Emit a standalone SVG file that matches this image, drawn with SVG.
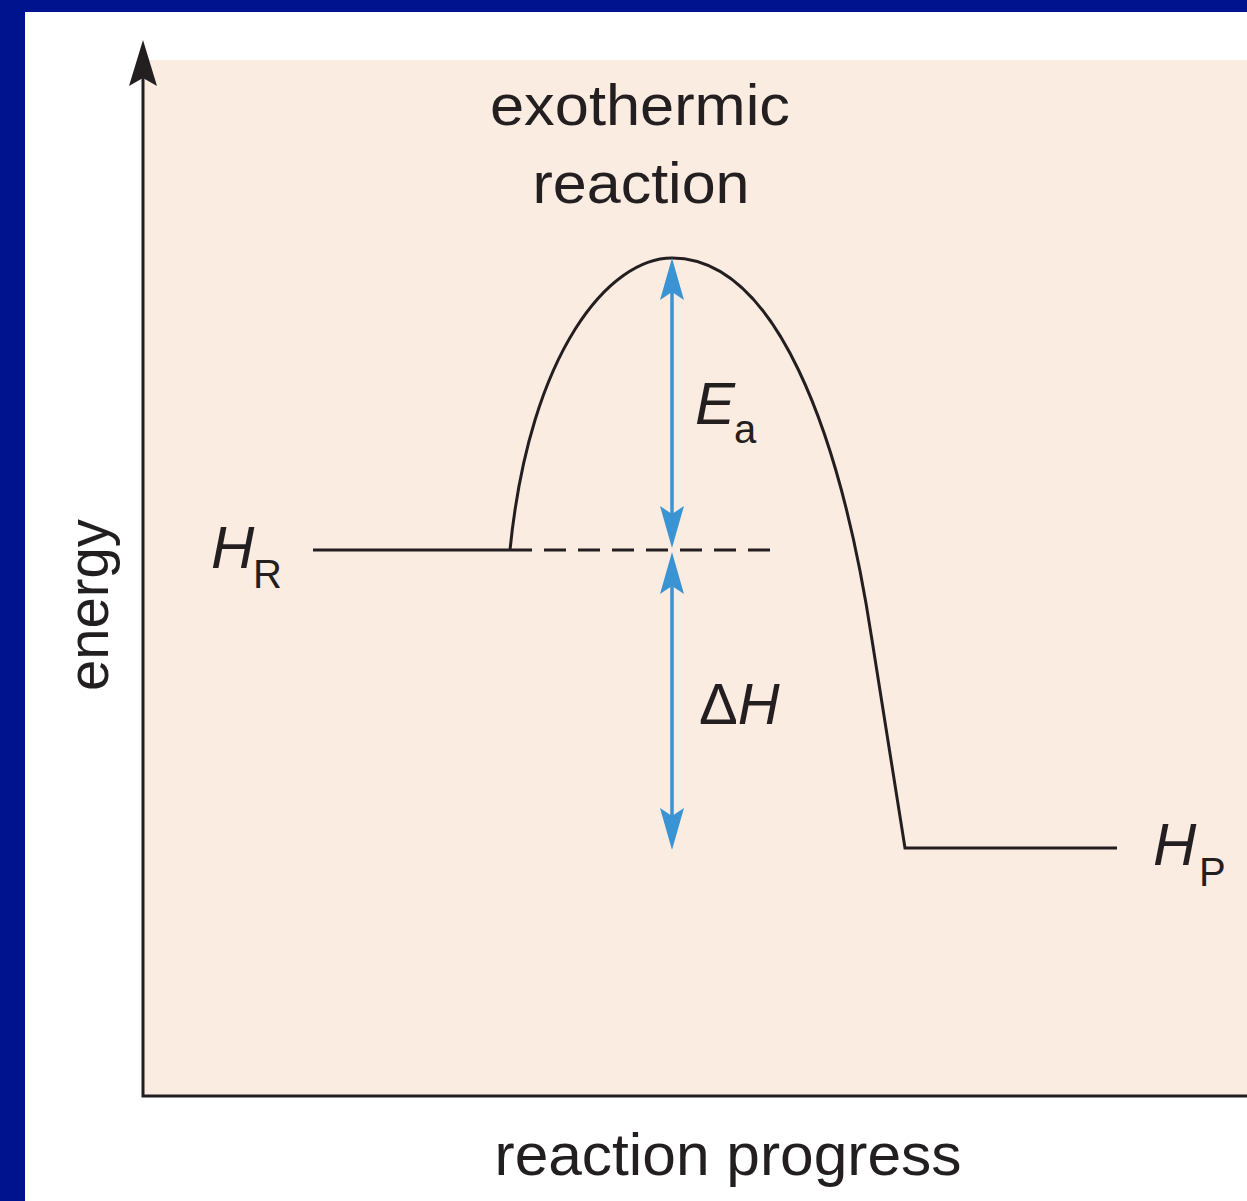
<svg xmlns="http://www.w3.org/2000/svg" width="1247" height="1201" viewBox="0 0 1247 1201">
<style>
.t{font-family:"Liberation Sans",Arial,sans-serif;fill:#231f20}
.it{font-style:italic}
.ln{fill:none;stroke:#231f20;stroke-width:3}
.bl{fill:none;stroke:#3a93d3;stroke-width:3.5}
.bh{fill:#3a93d3}
</style>
<rect x="0" y="0" width="1247" height="1201" fill="#00138f"/>
<rect x="25" y="12" width="1222" height="1189" fill="#ffffff"/>
<rect x="143" y="60" width="1104" height="1036" fill="#fbece2"/>
<g id="axes">
<path class="ln" d="M143,70 L143,1096 L1247,1096" stroke-width="3.5"/>
<path d="M143,40 L157,86 L143,78 L129,86 Z" fill="#231f20"/>
</g>
<g id="connectors">
<path class="ln" d="M313,550 L510,550"/>
<path class="ln" d="M510,550 L770,550" stroke-dasharray="22,12"/>
<path class="ln" d="M510,550 C530,350 610,258 672,258 C775,258 840,430 872,640 L905,848 L1117,848"/>
<line class="bl" x1="672" y1="275" x2="672" y2="530"/>
<path class="bh" d="M672,258 L684,300 L672,292 L660,300 Z"/>
<path class="bh" d="M672,548 L660,506 L672,514 L684,506 Z"/>
<line class="bl" x1="672" y1="570" x2="672" y2="830"/>
<path class="bh" d="M672,552 L684,594 L672,586 L660,594 Z"/>
<path class="bh" d="M672,850 L660,808 L672,816 L684,808 Z"/>
</g>
<g id="title">
<text class="t" x="640" y="125" font-size="58" text-anchor="middle" textLength="300" lengthAdjust="spacingAndGlyphs">exothermic</text>
<text class="t" x="641" y="203" font-size="58" text-anchor="middle" textLength="217" lengthAdjust="spacingAndGlyphs">reaction</text>
</g>
<g id="HR">
<text class="t" x="211" y="568" font-size="60"><tspan class="it">H</tspan><tspan font-size="40" x="253" y="588">R</tspan></text>
</g>
<g id="HP">
<text class="t" x="1153" y="865" font-size="60"><tspan class="it">H</tspan><tspan font-size="40" x="1199" y="886">P</tspan></text>
</g>
<g id="Ea">
<text class="t it" x="695" y="424" font-size="60">E</text>
<text class="t" x="734" y="443" font-size="40">a</text>
</g>
<g id="dH">
<text class="t" x="699" y="724" font-size="58">Δ<tspan class="it">H</tspan></text>
</g>
<g id="ylabel">
<text class="t" transform="translate(108,605) rotate(-90)" x="0" y="0" font-size="58" text-anchor="middle" textLength="172" lengthAdjust="spacingAndGlyphs">energy</text>
</g>
<g id="xlabel">
<text class="t" x="728" y="1175" font-size="60" text-anchor="middle" textLength="467" lengthAdjust="spacingAndGlyphs">reaction progress</text>
</g>
</svg>
